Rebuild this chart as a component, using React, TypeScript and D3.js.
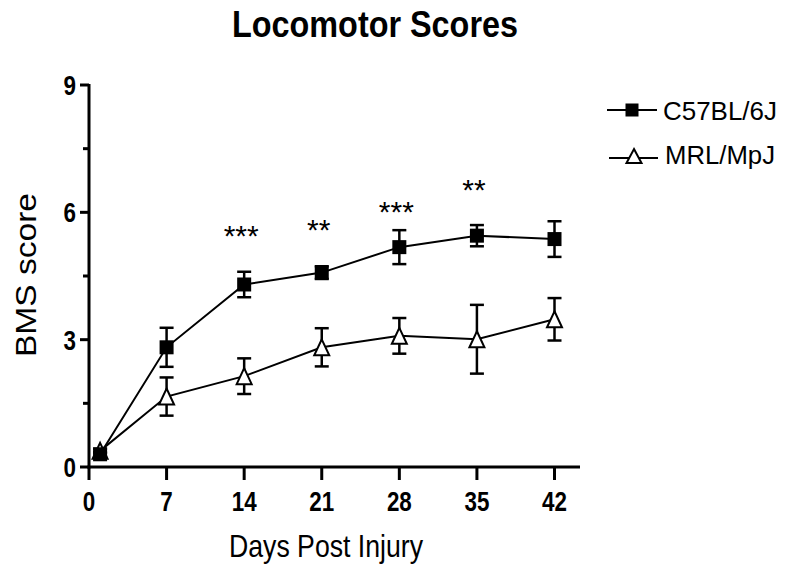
import React from 'react';
import * as d3 from 'd3';

// values
const days = [1, 7, 14, 21, 28, 35, 42];
const c57Mean = [0.3, 2.82, 4.3, 4.58, 5.18, 5.45, 5.37];
const c57Err = [0.05, 0.46, 0.3, 0.15, 0.4, 0.25, 0.42];
const mrlMean = [0.38, 1.66, 2.14, 2.82, 3.09, 3.01, 3.48];
const mrlErr = [0.05, 0.45, 0.42, 0.45, 0.42, 0.81, 0.5];
const xTicks = [0, 7, 14, 21, 28, 35, 42];
const yTicks = [0, 3, 6, 9];
const yMinorTicks = [1.5, 4.5, 7.5];
const starDays = [14, 21, 28, 35];
const starLabels = ['***', '**', '***', '**'];
const starLevels = [5.61, 5.75, 6.17, 6.69];
const seriesNames = ['C57BL/6J', 'MRL/MpJ'];

const W = 785;
const H = 566;
const FONT = '"Liberation Sans", Arial, Helvetica, sans-serif';

const x = d3.scaleLinear().domain([0, 42]).range([89, 554.5]);
const y = d3.scaleLinear().domain([0, 9]).range([467, 85]);
const xEnd = 580;

const line = d3.line<number>()
  .x((d, i) => x(days[i]))
  .y(d => y(d));

const Square = ({ cx, cy, s }: { cx: number; cy: number; s: number }) => (
  <rect x={cx - s / 2} y={cy - s / 2} width={s} height={s} fill="#000" />
);

const Triangle = ({ cx, cy, w, h }: { cx: number; cy: number; w: number; h: number }) => (
  <path
    d={`M${cx},${cy - h / 2}L${cx + w / 2},${cy + h / 2}L${cx - w / 2},${cy + h / 2}Z`}
    fill="#fff"
    stroke="#000"
    strokeWidth={2}
    strokeLinejoin="miter"
  />
);

const ErrorBars = ({ means, errs }: { means: number[]; errs: number[] }) => (
  <g stroke="#000" strokeWidth={2.5}>
    {means.map((m, i) => {
      const cx = x(days[i]);
      const top = y(m + errs[i]);
      const bot = y(m - errs[i]);
      return (
        <g key={i}>
          <line x1={cx} x2={cx} y1={top} y2={bot} />
          <line x1={cx - 7} x2={cx + 7} y1={top} y2={top} />
          <line x1={cx - 7} x2={cx + 7} y1={bot} y2={bot} />
        </g>
      );
    })}
  </g>
);

const App = () => {
  return (
    <svg width={W} height={H} style={{ position: 'absolute', left: 0, top: 0, background: '#fff' }} fontFamily={FONT}>
      <rect width={W} height={H} fill="#fff" />

      {/* title */}
      <text x={375} y={37} textAnchor="middle" fontSize={36} fontWeight="bold" textLength={286} lengthAdjust="spacingAndGlyphs">
        Locomotor Scores
      </text>

      {/* y axis */}
      <line x1={89} x2={89} y1={y(9) - 1} y2={y(0) + 1.5} stroke="#000" strokeWidth={3} />
      {yTicks.map(t => (
        <g key={t}>
          <line x1={80} x2={89} y1={y(t)} y2={y(t)} stroke="#000" strokeWidth={3} />
          <text transform={`translate(76,${y(t) + 10}) scale(0.8,1)`} textAnchor="end" fontSize={28} fontWeight="bold">
            {t}
          </text>
        </g>
      ))}
      {yMinorTicks.map(t => (
        <line key={t} x1={83} x2={89} y1={y(t)} y2={y(t)} stroke="#000" strokeWidth={3} />
      ))}
      <text
        transform={`translate(36,${275}) rotate(-90)`}
        textAnchor="middle"
        fontSize={30}
        textLength={164}
        lengthAdjust="spacingAndGlyphs"
      >
        BMS score
      </text>

      {/* x axis */}
      <line x1={87.5} x2={xEnd} y1={467} y2={467} stroke="#000" strokeWidth={3} />
      {xTicks.map(t => (
        <g key={t}>
          <line x1={x(t)} x2={x(t)} y1={467} y2={480} stroke="#000" strokeWidth={3} />
          <text transform={`translate(${x(t)},511) scale(0.8,1)`} textAnchor="middle" fontSize={28} fontWeight="bold">
            {t}
          </text>
        </g>
      ))}
      <text x={326} y={557} textAnchor="middle" fontSize={32} textLength={194} lengthAdjust="spacingAndGlyphs">
        Days Post Injury
      </text>

      {/* series lines */}
      <path d={line(mrlMean) || ''} fill="none" stroke="#000" strokeWidth={2} />
      <path d={line(c57Mean) || ''} fill="none" stroke="#000" strokeWidth={2} />

      <ErrorBars means={mrlMean} errs={mrlErr} />
      <ErrorBars means={c57Mean} errs={c57Err} />

      {mrlMean.map((m, i) => (
        <Triangle key={i} cx={x(days[i])} cy={y(m)} w={15} h={16} />
      ))}
      {c57Mean.map((m, i) => (
        <Square key={i} cx={x(days[i])} cy={y(m)} s={14} />
      ))}

      {/* significance */}
      {starDays.map((d, i) => (
        <text key={d} x={x(d) - 3} y={y(starLevels[i]) + 17} textAnchor="middle" fontSize={30}>
          {starLabels[i]}
        </text>
      ))}

      {/* legend */}
      <line x1={607} x2={657} y1={110} y2={110} stroke="#000" strokeWidth={2} />
      <Square cx={632} cy={110} s={13} />
      <text x={663} y={120} fontSize={26} textLength={114} lengthAdjust="spacingAndGlyphs">
        {seriesNames[0]}
      </text>
      <line x1={609} x2={658} y1={158} y2={158} stroke="#000" strokeWidth={2} />
      <Triangle cx={634} cy={156} w={15} h={14} />
      <text x={665} y={164} fontSize={26} textLength={110} lengthAdjust="spacingAndGlyphs">
        {seriesNames[1]}
      </text>
    </svg>
  );
};

export default App;
